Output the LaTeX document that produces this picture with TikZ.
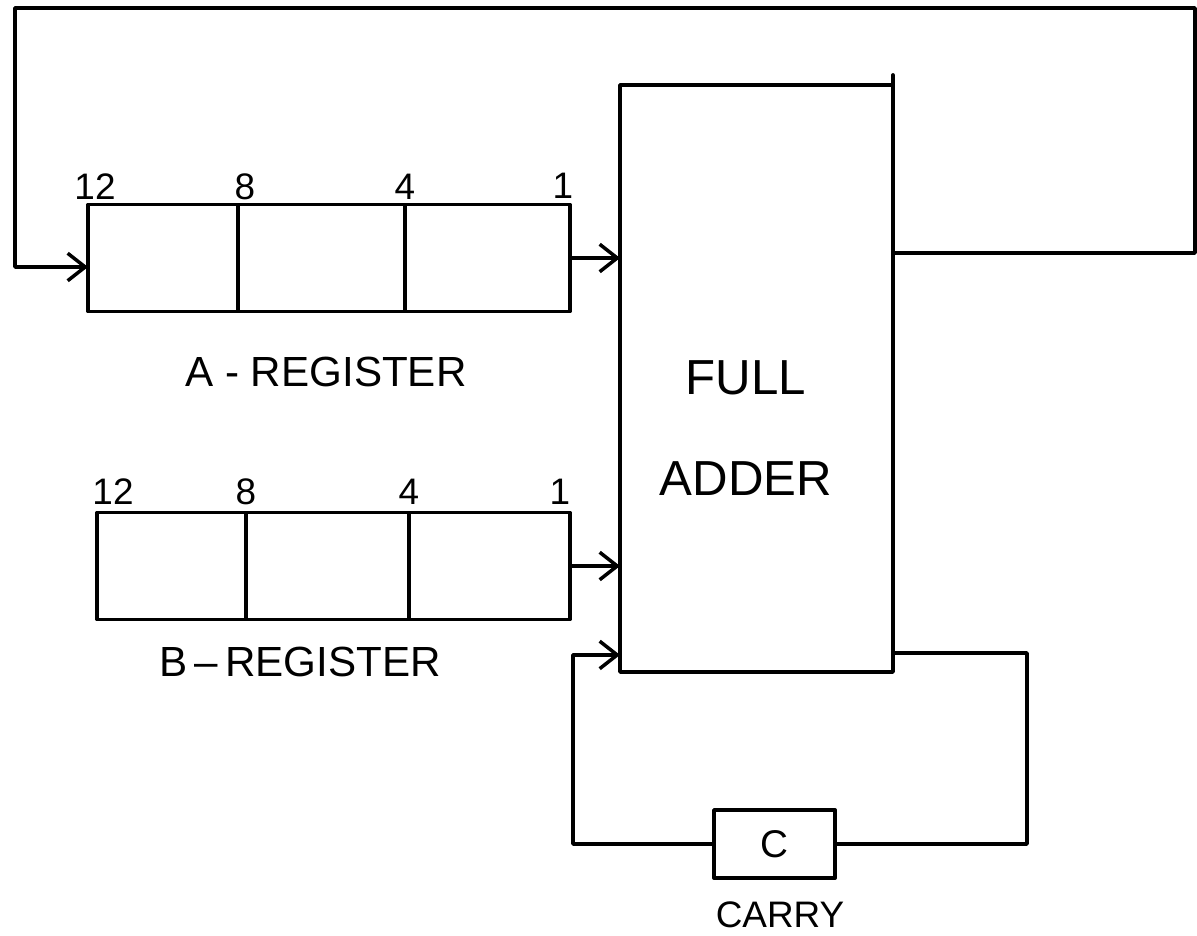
\documentclass[tikz,border=0pt]{standalone}
\usepackage{fontspec}
\setmainfont{Liberation Sans}
\usepackage{tikz}
\usetikzlibrary{arrows.meta}
\usetikzlibrary{calc}
\usetikzlibrary{positioning}

\tikzset{
	>={Straight Barb[length=3.5mm, width=5.5mm]},
	wire/.style={black, line width=2pt},
	cell/.style={draw=black, line width=2.2pt, inner sep=0pt, outer sep=0pt, minimum height=2.14cm},
	adderbox/.style={draw=black, line width=2.2pt, inner sep=0pt, outer sep=0pt,
		minimum width=5.46cm, minimum height=11.74cm},
	carrybox/.style={draw=black, line width=2.2pt, outer sep=0pt,
		minimum width=2.42cm, minimum height=1.36cm, font=\fontsize{22}{26}\selectfont},
	bitnum/.style={font=\fontsize{21}{24}\selectfont, inner sep=1pt},
	reglabel/.style={font=\fontsize{24}{28}\selectfont},
}

\begin{document}
\begin{tikzpicture}[x=0.02cm, y=-0.02cm, line cap=round, line join=round]
	\useasboundingbox (0,0) rectangle (1197,936);
	
	% --- Full adder ---
	\node[adderbox] (adder) at (756.5,378.5) {};
	\node[font=\fontsize{28}{57.5}\selectfont, align=center] (addertxt) at (746,428.5) {FULL\\ADDER};
	\draw[line width=2.2pt] (adder.north east) -- ++(0,-10);
	
	% --- A-register (bits 12..1) ---
	\node[cell, minimum width=3.0cm] (a12) at (163,258) {};
	\node[cell, minimum width=3.34cm, right=0pt of a12] (a8) {};
	\node[cell, minimum width=3.3cm, right=0pt of a8] (a4) {};
	
	\node[bitnum, above=0.06cm of a12.north west, xshift=0.14cm] (na12) {12};
	\node[bitnum, above=0.06cm of a8.north west, xshift=0.14cm] (na8) {8};
	\node[bitnum, above=0.06cm of a4.north west] (na4) {4};
	\node[bitnum, above=0.08cm of a4.north east, xshift=-0.14cm] (na1) {1};
	
	\node[reglabel] (alabel) at (326,372) {A - REGISTER};
	
	% --- B-register (bits 12..1) ---
	\node[cell, minimum width=2.98cm] (b12) at (171.5,566) {};
	\node[cell, minimum width=3.26cm, right=0pt of b12] (b8) {};
	\node[cell, minimum width=3.22cm, right=0pt of b8] (b4) {};
	
	\node[bitnum, above=0.12cm of b12.north west, xshift=0.32cm] (nb12) {12};
	\node[bitnum, above=0.12cm of b8.north west] (nb8) {8};
	\node[bitnum, above=0.12cm of b4.north west] (nb4) {4};
	\node[bitnum, above=0.12cm of b4.north east, xshift=-0.2cm] (nb1) {1};
	
	\node[reglabel] (blabel) at (300,662) {B\,--\,REGISTER};
	
	% --- Carry flip-flop ---
	\node[carrybox] (carry) at (774.5,844) {C};
	\node[font=\fontsize{21}{24}\selectfont] (carrylbl) at (780,915) {CARRY};
	
	% Registers into the adder
	\draw[wire,->] (a4.east) -- (a4.east -| adder.west);
	\draw[wire,->] (b4.east) -- (b4.east -| adder.west);
	
	% Sum back into the A-register
	\coordinate (aout) at ($(adder.east)+(0,-125.5)$);
	\coordinate (fbtop) at (1195,8);
	\coordinate (fbleft) at (15,8);
	\draw[wire,->] (aout) -| (fbtop) -- (fbleft) |- ($(a12.west)+(0,9)$);
	
	% Carry loop
	\coordinate (cout) at ($(adder.south east)+(0,-19)$);
	\coordinate (cin) at ($(adder.south west)+(0,-17)$);
	\draw[wire] (cout) -| ($(carry.east)+(192,0)$) -- (carry.east);
	\draw[wire,->] (carry.west) -- ++(-141,0) |- (cin);
	
\end{tikzpicture}
\end{document}
